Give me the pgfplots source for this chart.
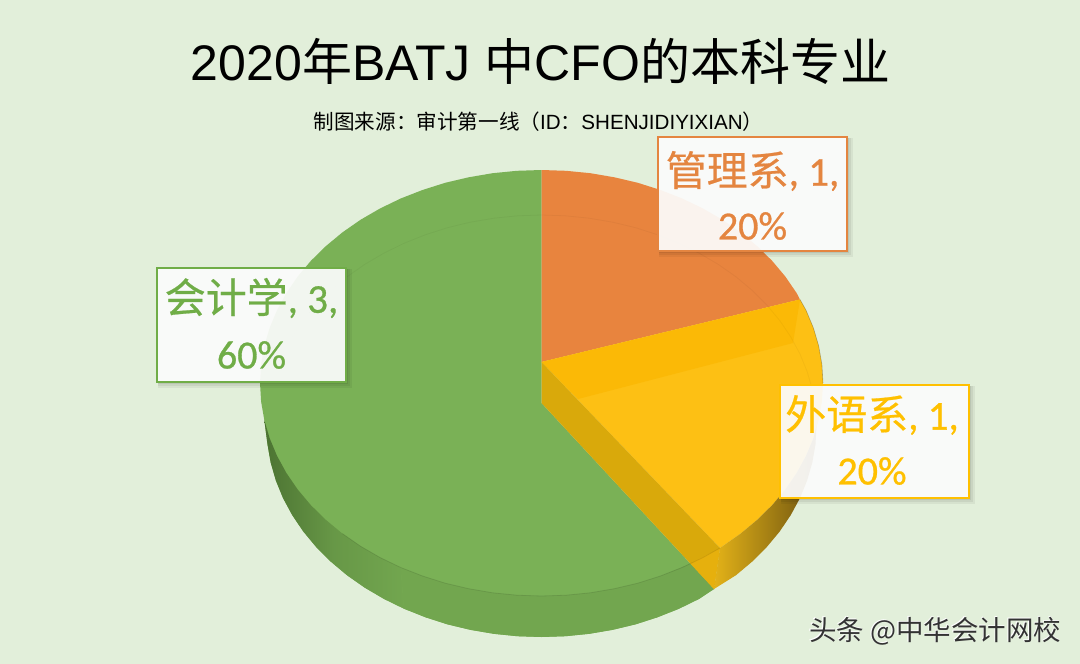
\documentclass[border=0pt]{standalone}
\usepackage{fontspec}
\usepackage{pgfplots}
\pgfplotsset{compat=1.18}
\setmainfont{Liberation Sans}
\newfontfamily\cjk{Noto Sans CJK SC}
\newfontfamily\cjkb[RawFeature={embolden=0.5}]{Noto Sans CJK SC}
\newfontfamily\calib[RawFeature={embolden=0.7}]{Carlito}
\definecolor{bg}{HTML}{E2EFDA}
\definecolor{gr}{HTML}{7AB156}
\definecolor{grside}{HTML}{72A64F}
\definecolor{grdark}{HTML}{4C7332}
\definecolor{lblg}{HTML}{70AD47}
\definecolor{org}{HTML}{E8843E}
\definecolor{lblo}{HTML}{E48540}
\definecolor{yl}{HTML}{FDC014}
\definecolor{ylband}{HTML}{FBB906}
\definecolor{ylcut}{HTML}{D9A90B}
\definecolor{ylcutb}{HTML}{E6B00D}
\definecolor{ylsidea}{HTML}{E3B218}
\definecolor{ylsideb}{HTML}{6E5410}
\definecolor{lbly}{HTML}{FFC000}
\newcommand{\labelbox}[5]{%
  \fill[black,opacity=0.05] (axis cs:#1+1,#2+1) rectangle (axis cs:#3+6,#4+6);
  \fill[black,opacity=0.06] (axis cs:#1+1,#2+1) rectangle (axis cs:#3+4,#4+4);
  \fill[black,opacity=0.07] (axis cs:#1+1,#2+1) rectangle (axis cs:#3+2,#4+2);
  \fill[white,opacity=0.92] (axis cs:#1,#2) rectangle (axis cs:#3,#4);
  \draw[#5,line width=1.5pt] (axis cs:#1,#2) rectangle (axis cs:#3,#4);}
\begin{document}
\begin{tikzpicture}
\begin{axis}[
  scale only axis,width=1080pt,height=664pt,
  xmin=0,xmax=1080,ymin=0,ymax=664,y dir=reverse,
  hide axis,clip=true]

% background
\addplot[fill=bg,draw=none] coordinates {(0,0)(1080,0)(1080,664)(0,664)} --cycle;

% green slice (3, 60%): top face and side, whole silhouette
\addplot[fill=gr,draw=none] coordinates {
 (541.5,170)(517,170.8)(492.6,173.2)(468.6,177.3)(445.2,182.8)(422.5,190)(400.7,198.5)(380,208.5)(360.5,219.8)(342.4,232.4)(325.9,246.1)(310.9,260.8)(297.7,276.5)(286.4,293)(277,310.2)(269.6,327.9)(264.3,346)(261.1,364.4)(260,383)(261.1,401.6)(264.3,420)
 (267.5,444.4)(270.7,462.6)(275.9,480.6)(283.1,498.2)(292.3,515.2)(303.3,531.5)(316.2,547)(330.8,561.6)(347,575.2)(364.7,587.6)(383.8,598.8)(404,608.7)(425.3,617.2)(447.4,624.3)(470.3,629.8)(493.8,633.8)(517.5,636.2)(541.5,637)(565.5,636.2)(589.2,633.8)(612.7,629.8)(635.6,624.3)(657.7,617.2)(679,608.7)(699.2,598.8)(714,589)
 (541.5,403)} --cycle;
% green side, solid part
\addplot[fill=grside,draw=none] coordinates {
 (400.7,567.5)(422.5,576)(445.2,583.2)(468.6,588.7)(492.6,592.8)(517,595.2)(541.5,596)(566,595.2)(590.4,592.8)(614.4,588.7)(637.8,583.2)(660.5,576)(690.4,563.5)
 (714,589)(699.2,598.8)(679,608.7)(657.7,617.2)(635.6,624.3)(612.7,629.8)(589.2,633.8)(565.5,636.2)(541.5,637)(517.5,636.2)(493.8,633.8)(470.3,629.8)(447.4,624.3)(425.3,617.2)(404,608.7)} --cycle;
% green side, shaded part
\addplot[left color=grdark,right color=grside,middle color=grside!72!grdark,draw=none] coordinates {
 (264.3,420)(269.6,438.1)(277,455.8)(286.4,473)(297.7,489.5)(310.9,505.2)(325.9,519.9)(342.4,533.6)(360.5,546.2)(380,557.5)(400.7,567.5)
 (404,608.7)(383.8,598.8)(364.7,587.6)(347,575.2)(330.8,561.6)(316.2,547)(303.3,531.5)(292.3,515.2)(283.1,498.2)(275.9,480.6)(270.7,462.6)(267.5,444.4)} --cycle;

% orange slice (1, 20%)
\addplot[fill=org,draw=none] coordinates {
 (541.5,170)(566,170.8)(590.4,173.2)(614.4,177.3)(637.8,182.8)(660.5,190)(682.3,198.5)(703,208.5)(722.5,219.8)(740.6,232.4)(757.1,246.1)(772.1,260.8)(785.3,276.5)(796.6,293)(800,299.5)(541.5,362)} --cycle;

% yellow slice (1, 20%)
\addplot[fill=yl,draw=none] coordinates {
 (541.5,362)(800,299.5)(806,310.2)(813.4,327.9)(818.7,346)(821.9,364.4)(823,383)(821.9,401.6)(818.7,420)(813.4,438.1)(806,455.8)(796.6,473)(785.3,489.5)(772.1,505.2)(757.1,519.9)(740.6,533.6)(720,548)} --cycle;
\addplot[fill=ylband,draw=none] coordinates {(541.5,362)(800,299.5)(793,343)(578,399)} --cycle;
% yellow rim side
\addplot[left color=ylsidea,right color=ylsideb,draw=none] coordinates {
 (720,548)(740.6,533.6)(757.1,519.9)(772.1,505.2)(785.3,489.5)(796.6,473)(806,455.8)(813.4,438.1)(816.5,426)
 (815.5,444.4)(812.3,462.6)(807.1,480.6)(799.9,498.2)(790.7,515.2)(779.7,531.5)(766.8,547)(752.2,561.6)(736,575.2)(714,589)} --cycle;
% yellow cut face
\addplot[fill=ylcut,draw=none] coordinates {(541.5,362)(720,548)(714,589)(541.5,403)} --cycle;
\addplot[fill=ylcutb,draw=none] coordinates {(690.4,563.5)(720,548)(714,589)} --cycle;

% rim lines
\addplot[draw=black,opacity=0.035,line width=0.8pt] coordinates {
 (292.3,336.8)(303.3,320.5)(316.2,305)(330.8,290.4)(347,276.8)(364.7,264.4)(383.8,253.2)(404,243.3)(425.3,234.8)(447.4,227.7)(470.3,222.2)(493.8,218.2)(517.5,215.8)(541.5,215)(565.5,215.8)(589.2,218.2)(612.7,222.2)(635.6,227.7)(657.7,234.8)(679,243.3)(699.2,253.2)(718.3,264.4)(736,276.8)(752.2,290.4)(766.8,305)(779.7,320.5)(790.7,336.8)(799.9,353.8)(807.1,371.4)(812.3,389.4)};
\addplot[draw=black,opacity=0.1,line width=0.8pt] coordinates {
 (342.4,533.6)(360.5,546.2)(380,557.5)(400.7,567.5)(422.5,576)(445.2,583.2)(468.6,588.7)(492.6,592.8)(517,595.2)(541.5,596)(566,595.2)(590.4,592.8)(614.4,588.7)(637.8,583.2)(660.5,576)(682.3,567.5)(703,557.5)(720,548)};
\addplot[draw=black,opacity=0.25,line width=0.6pt] coordinates {
 (800,299.5)(806,310.2)(813.4,327.9)(818.7,346)(821.9,364.4)(823,383)};

% data labels
\labelbox{658}{137}{847}{251}{lblo}
\node[inner sep=0pt,text=lblo] at (axis cs:752.5,171) {\fontsize{41}{41}\selectfont\cjkb 管理系\calib, 1,};
\node[inner sep=0pt,text=lblo] at (axis cs:752.5,226) {\fontsize{40}{40}\selectfont\calib 20\%};

\labelbox{157}{268}{346}{382}{lblg}
\node[inner sep=0pt,text=lblg] at (axis cs:251.5,298) {\fontsize{41}{41}\selectfont\cjkb 会计学\calib, 3,};
\node[inner sep=0pt,text=lblg] at (axis cs:251.5,355) {\fontsize{40}{40}\selectfont\calib 60\%};

\labelbox{780}{385}{969}{498}{lbly}
\node[inner sep=0pt,text=lbly] at (axis cs:872,415) {\fontsize{41}{41}\selectfont\cjkb 外语系\calib, 1,};
\node[inner sep=0pt,text=lbly] at (axis cs:872,471) {\fontsize{40}{40}\selectfont\calib 20\%};

% titles
\node[inner sep=0pt,text=black] at (axis cs:540.5,61) {\fontsize{50}{50}\selectfont 2020{\cjk 年}BATJ {\cjk 中}CFO{\cjk 的本科专业}};
\node[inner sep=0pt,text=black] at (axis cs:534,122) {\hspace{9pt}\fontsize{20.6}{20.6}\selectfont{\cjk 制图来源：审计第一线（}ID{\cjk ：}SHENJIDIYIXIAN{\cjk ）}};

% watermark
\node[inner sep=0pt,text=white] at (axis cs:934,630) {\fontsize{27.5}{27.5}\selectfont\cjkb 头条 @中华会计网校};
\node[inner sep=0pt,text=black!80] at (axis cs:935.2,631.2) {\fontsize{27.5}{27.5}\selectfont\cjk 头条 @中华会计网校};
\end{axis}
\end{tikzpicture}
\end{document}
